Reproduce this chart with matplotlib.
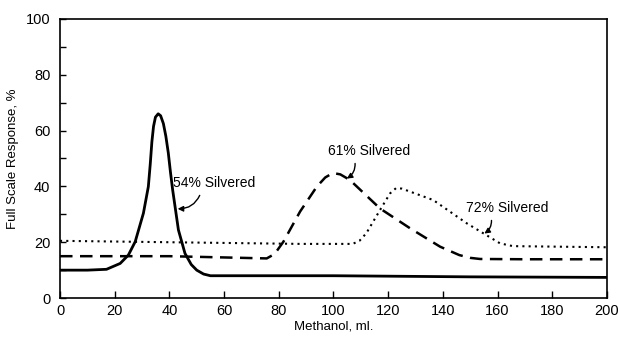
import numpy as np
import matplotlib
matplotlib.use("Agg")
import matplotlib.pyplot as plt
from matplotlib.ticker import MultipleLocator

plt.rcParams['font.family'] = ['Liberation Sans Narrow', 'Liberation Sans', 'DejaVu Sans']

# 54% silvered (solid)
x54 = [0, 10, 17, 22, 25, 27.5, 30.5, 32.3, 33.0, 33.6, 34.2, 34.9, 35.9, 36.8, 37.8, 38.7, 39.6, 40.4, 41.2, 43.3, 45.7, 48, 50, 52.5, 55, 70, 100, 150, 200]
y54 = [10, 10, 10.3, 12.4, 15.4, 20.2, 30.4, 39.9, 48, 56, 61.5, 64.8, 66, 65.3, 62.5, 58, 52, 45, 38.7, 24.4, 16, 12, 10, 8.6, 8, 8, 8, 7.6, 7.4]

# 61% silvered (dashed)
x61 = [0, 40, 75.6, 78.5, 81.7, 87.8, 93.9, 97, 99.8, 102.5, 106, 117, 128, 139, 146, 150, 153.6, 170, 200]
y61 = [15, 15, 14.2, 15.8, 20.2, 31.0, 39.9, 43.2, 44.8, 44.3, 42.3, 32.1, 25, 18.4, 15.4, 14.4, 14, 13.9, 13.9]

# 72% silvered (dotted)
x72 = [0, 40, 87.8, 107, 109.5, 112, 117, 120.7, 122.9, 125, 136.5, 148.7, 160.9, 165.6, 200]
y72 = [20.5, 20, 19.4, 19.4, 20.5, 23.2, 31.5, 37.5, 39.4, 39.2, 35.1, 26.8, 19.6, 18.6, 18.2]

labels = ['54% Silvered', '61% Silvered', '72% Silvered']

fig = plt.figure(figsize=(6.18, 3.43), dpi=100)
ax = fig.add_axes([0.0971, 0.131, 0.885, 0.814])

ax.plot(x54, y54, color='black', lw=2.0, ls='-')
ax.plot(x61, y61, color='black', lw=1.8, ls=(0, (5, 3)))
ax.plot(x72, y72, color='black', lw=1.5, ls=(0, (1, 2)))

ax.set_xlim(0, 200)
ax.set_ylim(0, 100)
ax.xaxis.set_major_locator(MultipleLocator(20))
ax.yaxis.set_major_locator(MultipleLocator(20))
ax.yaxis.set_minor_locator(MultipleLocator(10))
ax.tick_params(axis='x', direction='in', length=5, width=1, pad=4, labelsize=10.5)
ax.tick_params(axis='y', which='major', direction='in', length=4, width=1, pad=7, labelsize=10.5)
ax.tick_params(axis='y', which='minor', direction='in', length=4, width=1)
for s in ax.spines.values():
    s.set_linewidth(1.2)

ax.set_xlabel('Methanol, ml.', fontsize=9.5, labelpad=2)
ax.set_ylabel('Full Scale Response, %', fontsize=9.5, labelpad=5)

# annotations
ax.annotate(labels[0], xy=(42, 32), xytext=(41.3, 41.2), ha='left', va='center', fontsize=10,
            arrowprops=dict(arrowstyle='-|>', color='black', lw=1, mutation_scale=8,
                            connectionstyle='arc3,rad=-0.4', relpos=(0.35, 0)))
ax.annotate(labels[1], xy=(104, 42.3), xytext=(113, 52.7), ha='center', va='center', fontsize=10,
            arrowprops=dict(arrowstyle='-|>', color='black', lw=1, mutation_scale=8,
                            connectionstyle='arc3,rad=-0.4', relpos=(0.32, 0)))
ax.annotate(labels[2], xy=(154.3, 22.6), xytext=(163.5, 32.3), ha='center', va='center', fontsize=10,
            arrowprops=dict(arrowstyle='-|>', color='black', lw=1, mutation_scale=8,
                            connectionstyle='arc3,rad=-0.4', relpos=(0.3, 0)))

fig.savefig('out.png', dpi=100)
